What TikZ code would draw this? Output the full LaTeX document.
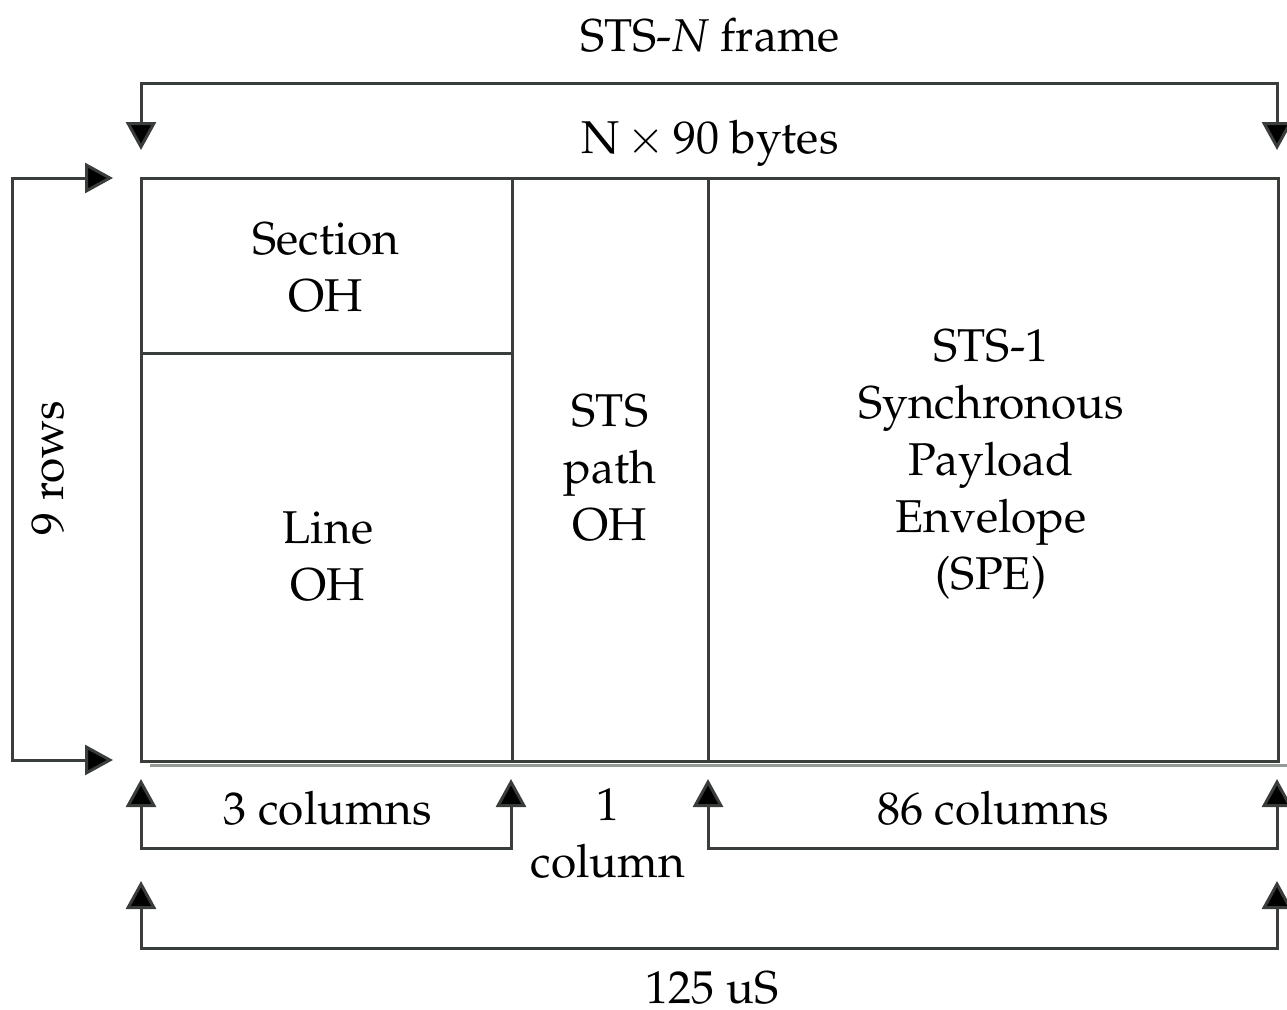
\documentclass[tikz,border=0pt]{standalone}
\usepackage[T1]{fontenc}
\usepackage{mathpazo}
\usetikzlibrary{arrows.meta}
\definecolor{linegray}{RGB}{58,62,58}
\definecolor{shadegray}{RGB}{150,154,150}
\tikzset{
  rule/.style={line width=3pt, draw=linegray},
  dimboth/.style={rule, line join=miter,
    {Triangle[length=28pt,width=30pt,fill=black]}-{Triangle[length=28pt,width=30pt,fill=black]}},
  word/.style={font=\fontsize{46}{57}\selectfont, inner sep=0pt, text=black},
  lbl/.style={word, align=center},
}
\begin{document}
\begin{tikzpicture}[x=1pt,y=-1pt]
  \useasboundingbox (0,0) rectangle (1287,1009);

  % frame corners and cell boundaries
  \coordinate (fTL) at (141,178);
  \coordinate (fBR) at (1278,761);
  \coordinate (c1T) at (512,178);
  \coordinate (c1B) at (512,761);
  \coordinate (c2T) at (708,178);
  \coordinate (c2B) at (708,761);
  \coordinate (sL)  at (141,353);
  \coordinate (sR)  at (512,353);

  % soft under-stroke of the bottom edge
  \draw[line width=3pt, shadegray] (150,765.5) -- (1287,765.5);

  % frame and its cells
  \draw[rule] (fTL) rectangle (fBR);
  \draw[rule] (c1T) -- (c1B);
  \draw[rule] (c2T) -- (c2B);
  \draw[rule] (sL) -- (sR);

  % end points of the dimension arrows
  \coordinate (topA) at (141,150);
  \coordinate (topB) at (1277,150);
  \coordinate (topL) at (141,83);
  \coordinate (topR) at (1277,83);
  \coordinate (rowA) at (113,178);
  \coordinate (rowB) at (113,760);
  \coordinate (rowT) at (12,178);
  \coordinate (rowD) at (12,760);
  \coordinate (ohA)  at (141,779);
  \coordinate (ohB)  at (511,779);
  \coordinate (ohL)  at (141,848);
  \coordinate (ohR)  at (511,848);
  \coordinate (speA) at (708,779);
  \coordinate (speB) at (1277,779);
  \coordinate (speL) at (708,848);
  \coordinate (speR) at (1277,848);
  \coordinate (allA) at (141,881);
  \coordinate (allB) at (1277,881);
  \coordinate (allL) at (141,948);
  \coordinate (allR) at (1277,948);

  % dimension arrows
  \draw[dimboth] (topA) -- (topL) -- (topR) -- (topB);
  \draw[dimboth] (rowA) -- (rowT) -- (rowD) -- (rowB);
  \draw[dimboth] (ohA) -- (ohL) -- (ohR) -- (ohB);
  \draw[dimboth] (speA) -- (speL) -- (speR) -- (speB);
  \draw[dimboth] (allA) -- (allL) -- (allR) -- (allB);

  % labels
  \node[word] (title) at (710,35) {STS-\textit{N} frame};
  \node[word] (bytes) at (710,143) {N\,$\times$\,90 bytes};
  \node[lbl] (sect)  at (326,268) {Section\\OH};
  \node[lbl] (line)  at (328,557) {Line\\OH};
  \node[lbl] (path)  at (610,468) {STS\\path\\OH};
  \node[lbl] (spe)   at (991,464) {STS-1\\Synchronous\\Payload\\Envelope\\(SPE)};
  \node[word, rotate=90] (rows) at (48,468) {9 rows};
  \node[word] (three) at (328,808) {3 columns};
  \node[lbl] (one)   at (608,834) {1\\column};
  \node[word] (eighty) at (993,808) {86 columns};
  \node[word, anchor=base] (time) at (712,1003) {125 uS};
\end{tikzpicture}
\end{document}
